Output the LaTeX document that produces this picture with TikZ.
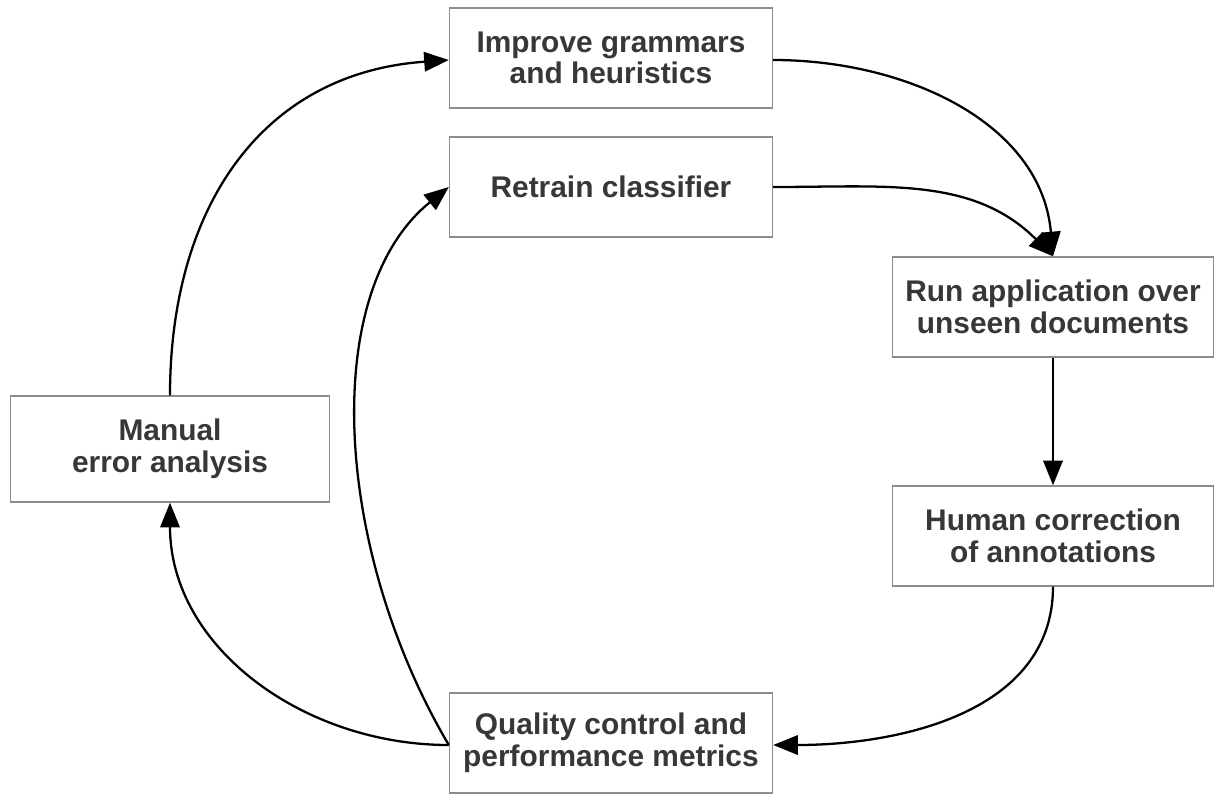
\documentclass[tikz,border=0pt]{standalone}
\usepackage{fontspec}
\setmainfont{Liberation Sans}
\usetikzlibrary{arrows.meta}
\definecolor{boxgray}{RGB}{140,140,140}
\definecolor{textgray}{RGB}{55,55,58}
\tikzset{
  stepbox/.style={draw=boxgray, line width=0.8pt, minimum width=6.46cm, minimum height=2.0cm,
    align=center, text=textgray, font=\fontsize{17}{18}\selectfont\bfseries},
  flow/.style={line width=1.3pt, -{Triangle[length=14pt,width=11pt]}}
}
\begin{document}
\begin{tikzpicture}
                \useasboundingbox (0,0) rectangle (24.32,-15.92);
                \node[stepbox] (improve) at (12.22,-1.16) {Improve grammars\\and heuristics};
                \node[stepbox] (retrain) at (12.22,-3.74) {Retrain classifier};
                \node[stepbox, minimum width=6.42cm] (run) at (21.06,-6.14) {Run application over\\unseen documents};
                \node[stepbox, minimum width=6.42cm] (human) at (21.06,-10.72) {Human correction\\of annotations};
                \node[stepbox] (quality) at (12.22,-14.86) {Quality control and\\performance metrics};
                \node[stepbox, minimum width=6.38cm, minimum height=2.12cm] (manual) at (3.40,-8.98) {Manual\\error analysis};
                \draw[flow] (manual.north) to[out=90, in=184, looseness=1.1] ([yshift=-0.04cm]improve.west);
                \draw[flow] ([yshift=-0.04cm]improve.east) to[out=0, in=95] (run.north);
                \draw[flow] (retrain.east) to[out=0, in=135] (run.north);
                \draw[flow] (run) -- (human);
                \draw[flow] (human.south) to[out=-90, in=0] ([yshift=-0.04cm]quality.east);
                \draw[flow] ([yshift=-0.04cm]quality.west) to[out=180, in=-90] (manual.south);
                \draw[flow] ([yshift=-0.04cm]quality.west) .. controls +(-2.3,3.9) and +(-2.6,-2.1) .. (retrain.west);
\end{tikzpicture}
\end{document}
